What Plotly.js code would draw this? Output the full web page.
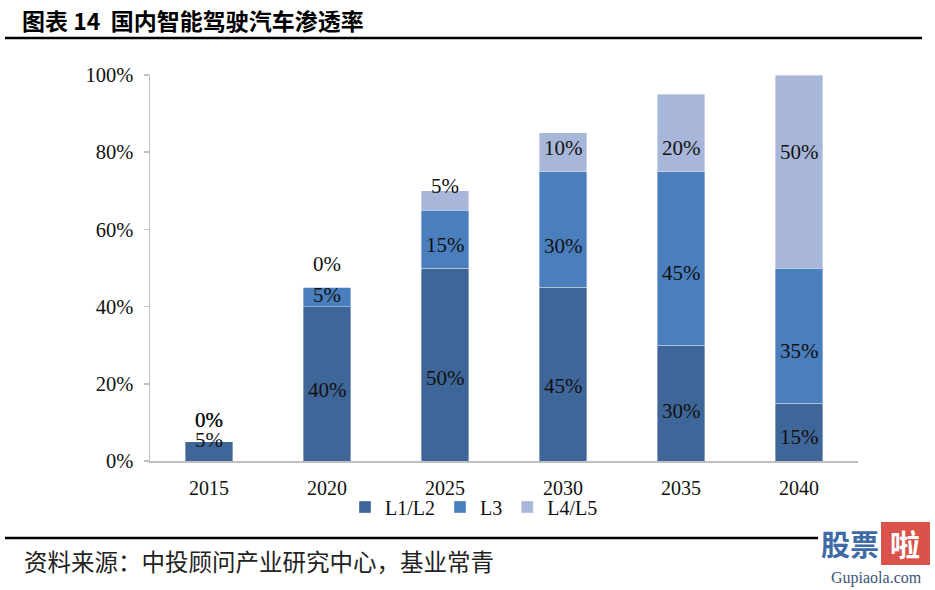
<!DOCTYPE html>
<html>
<head>
<meta charset="utf-8">
<script src="https://cdn.plot.ly/plotly-3.0.1.min.js"></script>
<style>html,body{margin:0;padding:0;background:#fff;}#chart{width:935px;height:590px;}</style>
</head>
<body>
<div id="chart"></div>
<script>
// ---- data ----
const categories = ['2015', '2020', '2025', '2030', '2035', '2040'];
const seriesNames = ['L1/L2', 'L3', 'L4/L5'];
const l1l2 = [5, 40, 50, 45, 30, 15];
const l3 = [0, 5, 15, 30, 45, 35];
const l4l5 = [0, 0, 5, 10, 20, 50];
const yTickVals = [0, 20, 40, 60, 80, 100];
const yTickText = ['0%', '20%', '40%', '60%', '80%', '100%'];

// ---- style ----
const colors = ['#3f6698', '#4a7ebd', '#a8b7d9'];
const serif = 'Liberation Serif, Times New Roman, serif';
const cjk = 'Noto Sans CJK SC, sans-serif';
// label pixel offsets (from segment middle), as placed in the original
const labelShift = [
  [11, -6, -13, -12, -8, -5],
  [22, 2, -6, -17, -15, -15],
  [22, 23, 14, 4, -15, 20]
];

const L = 150, R = 77, T = 75, B = 129, W = 935, H = 590;
const pw = W - L - R, ph = H - T - B;
const px = v => (v - L) / pw;
const py = v => (H - B - v) / ph;

const allSeries = [l1l2, l3, l4l5];
const traces = allSeries.map((vals, s) => ({
  type: 'bar', name: seriesNames[s], x: categories, y: vals,
  marker: {color: colors[s], line: {width: 0.6, color: 'rgba(255,255,255,0.6)'}},
  hoverinfo: 'skip'
}));

const annotations = [];
categories.forEach((c, i) => {
  let base = 0;
  allSeries.forEach((vals, s) => {
    const v = vals[i];
    annotations.push({
      xref: 'x', yref: 'y', x: i, y: base + v / 2, text: v + '%',
      showarrow: false, yshift: labelShift[s][i],
      font: {family: serif, size: 21, color: '#111'}
    });
    base += v;
  });
});

annotations.push({
  xref: 'paper', yref: 'paper', x: px(22), y: py(561), xanchor: 'left', yanchor: 'middle',
  text: '资料来源：中投顾问产业研究中心，基业常青', showarrow: false,
  font: {family: cjk, size: 23.5, color: '#222'}
});
// watermark
annotations.push({
  xref: 'paper', yref: 'paper', x: px(850), y: py(543), xanchor: 'center', yanchor: 'middle',
  text: '<b>股票</b>', showarrow: false, font: {family: cjk, size: 29, color: '#3e6aa6'}
});
annotations.push({
  xref: 'paper', yref: 'paper', x: px(905), y: py(543), xanchor: 'center', yanchor: 'middle',
  text: '<b>啦</b>', showarrow: false, font: {family: cjk, size: 30, color: '#ffffff'}
});
annotations.push({
  xref: 'paper', yref: 'paper', x: px(876), y: py(578), xanchor: 'center', yanchor: 'middle',
  text: 'Gupiaola.com', showarrow: false, font: {family: serif, size: 16, color: '#3b5577'}
});

const shapes = [
  {type: 'line', xref: 'paper', yref: 'paper', x0: px(5), x1: px(922), y0: py(38), y1: py(38),
   line: {color: '#000', width: 2.5}},
  {type: 'line', xref: 'paper', yref: 'paper', x0: px(5), x1: px(818), y0: py(538), y1: py(538),
   line: {color: '#000', width: 2.5}},
  {type: 'rect', xref: 'paper', yref: 'paper', x0: px(881), x1: px(930), y0: py(522), y1: py(565),
   fillcolor: '#d9534a', line: {width: 0}, layer: 'below'}
];

const layout = {
  width: W, height: H,
  margin: {l: L, r: R, t: T, b: B},
  paper_bgcolor: '#fff', plot_bgcolor: '#fff',
  barmode: 'stack', bargap: 0.6,
  showlegend: true,
  title: {
    text: '<b>图表 14  国内智能驾驶汽车渗透率</b>',
    x: 22 / W, xanchor: 'left', xref: 'container',
    y: 1 - 22 / H, yanchor: 'middle', yref: 'container',
    font: {family: cjk, size: 23, color: '#000'}
  },
  xaxis: {
    type: 'category', range: [-0.5, categories.length - 0.5], autorange: false,
    showline: true, linecolor: '#c0c0c0', linewidth: 1.5,
    ticks: '', showgrid: false, zeroline: false, ticklabelstandoff: 8,
    tickfont: {family: serif, size: 20, color: '#111'}
  },
  yaxis: {
    range: [0, 100], autorange: false, tickvals: yTickVals, ticktext: yTickText,
    showline: true, linecolor: '#c0c0c0', linewidth: 1.5,
    ticks: 'outside', ticklen: 5, tickcolor: '#c0c0c0', tickwidth: 1.5,
    showgrid: false, zeroline: false, ticklabelstandoff: 6,
    tickfont: {family: serif, size: 20.5, color: '#111'}
  },
  legend: {
    orientation: 'h', x: px(474), xanchor: 'center', y: py(507), yanchor: 'middle',
    bgcolor: 'rgba(0,0,0,0)', borderwidth: 0,
    font: {family: serif, size: 20, color: '#111'}, itemwidth: 30, tracegroupgap: 0,
    traceorder: 'normal'
  },
  annotations: annotations,
  shapes: shapes
};

Plotly.newPlot('chart', traces, layout, {displayModeBar: false, staticPlot: true});
</script>
</body>
</html>
